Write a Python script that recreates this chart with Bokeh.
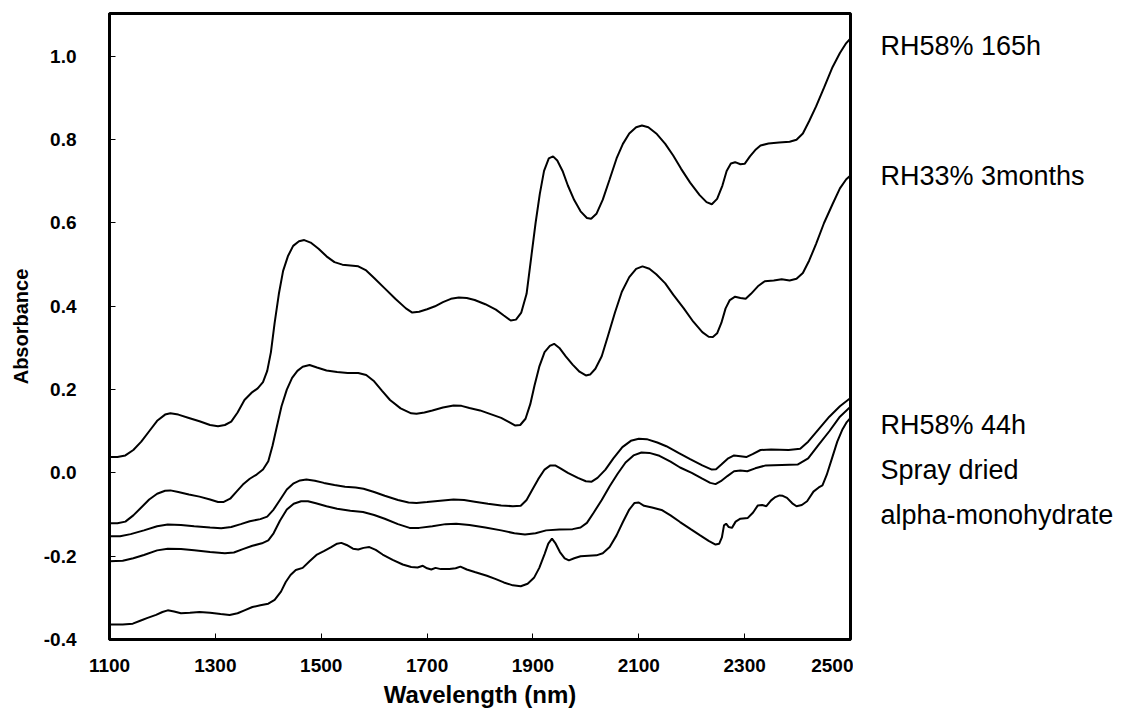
from bokeh.plotting import figure
from bokeh.layouts import row
from bokeh.models import Range1d, FixedTicker, NumeralTickFormatter
from bokeh.core.properties import value
from bokeh.embed import file_html
from bokeh.resources import INLINE

# ---- data ----
wl_rh58_165 = [1100, 1115, 1130, 1145, 1160, 1175, 1190, 1205, 1215, 1230, 1250, 1270, 1290, 1305, 1318, 1330,
               1342, 1355, 1368, 1380, 1390, 1398, 1405, 1412, 1420, 1428, 1437, 1447, 1458, 1468, 1480, 1495,
               1510, 1525, 1540, 1555, 1570, 1585, 1600, 1620, 1640, 1660, 1672, 1685, 1700, 1715, 1730, 1745,
               1760, 1775, 1790, 1810, 1830, 1845, 1858, 1868, 1878, 1888, 1897, 1905, 1913, 1921, 1930, 1938,
               1946, 1956, 1966, 1978, 1990, 2002, 2010, 2020, 2032, 2045, 2058, 2070, 2082, 2095, 2106, 2118,
               2133, 2150, 2165, 2180, 2197, 2215, 2228, 2238, 2248, 2258, 2266, 2274, 2282, 2292, 2300, 2310,
               2320, 2330, 2345, 2365, 2385, 2398, 2410, 2422, 2435, 2450, 2466, 2480, 2492, 2500]
ab_rh58_165 = [0.038, 0.038, 0.042, 0.055, 0.075, 0.100, 0.125, 0.140, 0.143, 0.140, 0.132, 0.124, 0.115, 0.112, 0.115, 0.123,
               0.145, 0.175, 0.192, 0.203, 0.218, 0.245, 0.290, 0.360, 0.430, 0.485, 0.520, 0.545, 0.556, 0.559, 0.553, 0.538,
               0.520, 0.506, 0.500, 0.498, 0.496, 0.486, 0.468, 0.443, 0.418, 0.395, 0.385, 0.387, 0.393, 0.400, 0.410, 0.418,
               0.421, 0.420, 0.415, 0.405, 0.392, 0.378, 0.366, 0.368, 0.385, 0.430, 0.520, 0.600, 0.670, 0.725, 0.755, 0.760,
               0.750, 0.725, 0.690, 0.655, 0.628, 0.612, 0.610, 0.622, 0.656, 0.705, 0.755, 0.790, 0.815, 0.830, 0.834, 0.830,
               0.815, 0.790, 0.762, 0.730, 0.697, 0.667, 0.650, 0.645, 0.658, 0.690, 0.725, 0.743, 0.746, 0.741, 0.742, 0.760,
               0.775, 0.786, 0.791, 0.793, 0.795, 0.800, 0.815, 0.845, 0.880, 0.925, 0.974, 1.008, 1.032, 1.043]

wl_rh33_3m = [1100, 1115, 1130, 1145, 1160, 1175, 1190, 1205, 1215, 1230, 1250, 1270, 1290, 1305, 1315, 1328,
              1340, 1352, 1365, 1378, 1390, 1400, 1408, 1416, 1425, 1435, 1445, 1455, 1465, 1478, 1492, 1510,
              1530, 1550, 1570, 1585, 1600, 1615, 1630, 1650, 1670, 1680, 1695, 1710, 1730, 1750, 1765, 1780,
              1800, 1820, 1840, 1855, 1866, 1876, 1886, 1895, 1903, 1912, 1922, 1932, 1940, 1950, 1962, 1975,
              1988, 2000, 2008, 2018, 2030, 2042, 2055, 2068, 2082, 2095, 2107, 2120, 2133, 2150, 2165, 2185,
              2203, 2220, 2232, 2240, 2248, 2256, 2264, 2272, 2282, 2292, 2302, 2312, 2325, 2338, 2355, 2370,
              2385, 2398, 2410, 2422, 2435, 2450, 2466, 2480, 2492, 2500]
ab_rh33_3m = [-0.121, -0.121, -0.117, -0.102, -0.083, -0.064, -0.050, -0.043, -0.042, -0.046, -0.052, -0.057, -0.064, -0.070, -0.070, -0.062,
              -0.045, -0.028, -0.014, -0.004, 0.008, 0.028, 0.065, 0.110, 0.160, 0.200, 0.228, 0.245, 0.255, 0.259, 0.253, 0.246,
              0.242, 0.240, 0.240, 0.235, 0.220, 0.197, 0.175, 0.155, 0.143, 0.142, 0.145, 0.150, 0.157, 0.162, 0.161, 0.156,
              0.150, 0.141, 0.132, 0.122, 0.114, 0.115, 0.130, 0.165, 0.210, 0.255, 0.290, 0.305, 0.310, 0.300, 0.280, 0.260,
              0.243, 0.234, 0.236, 0.250, 0.280, 0.330, 0.385, 0.435, 0.470, 0.490, 0.496, 0.490, 0.477, 0.455, 0.428, 0.395,
              0.363, 0.338, 0.327, 0.326, 0.335, 0.360, 0.395, 0.415, 0.423, 0.420, 0.418, 0.430, 0.448, 0.460, 0.462, 0.465,
              0.462, 0.466, 0.480, 0.510, 0.550, 0.600, 0.645, 0.683, 0.705, 0.714]

wl_rh58_44 = [1100, 1120, 1140, 1165, 1190, 1210, 1235, 1260, 1290, 1311, 1330, 1348, 1365, 1385, 1398, 1410,
              1422, 1435, 1448, 1460, 1472, 1488, 1505, 1525, 1545, 1565, 1580, 1600, 1620, 1645, 1665, 1680,
              1700, 1725, 1750, 1770, 1790, 1815, 1840, 1862, 1877, 1888, 1898, 1910, 1922, 1933, 1942, 1952,
              1966, 1985, 2000, 2011, 2022, 2037, 2052, 2069, 2085, 2100, 2115, 2135, 2152, 2175, 2197, 2220,
              2238, 2246, 2256, 2268, 2280, 2292, 2303, 2315, 2330, 2350, 2383, 2405, 2420, 2440, 2460, 2480, 2500]
ab_rh58_44 = [-0.152, -0.152, -0.147, -0.138, -0.128, -0.124, -0.125, -0.128, -0.131, -0.133, -0.130, -0.123, -0.116, -0.111, -0.105, -0.088,
              -0.065, -0.040, -0.025, -0.018, -0.016, -0.019, -0.024, -0.029, -0.033, -0.035, -0.038, -0.046, -0.055, -0.065, -0.071, -0.072,
              -0.070, -0.067, -0.064, -0.065, -0.069, -0.074, -0.078, -0.080, -0.079, -0.065, -0.042, -0.015, 0.008, 0.018, 0.018, 0.011,
              0.000, -0.012, -0.020, -0.021, -0.012, 0.008, 0.035, 0.062, 0.077, 0.082, 0.081, 0.073, 0.064, 0.048, 0.033, 0.018,
              0.008, 0.009, 0.020, 0.034, 0.042, 0.040, 0.038, 0.045, 0.055, 0.056, 0.055, 0.058, 0.075, 0.105, 0.135, 0.160, 0.180]

wl_spray = [1100, 1125, 1145, 1165, 1190, 1210, 1235, 1260, 1290, 1318, 1335, 1352, 1370, 1388, 1400, 1410,
            1422, 1435, 1448, 1462, 1475, 1490, 1510, 1530, 1555, 1579, 1600, 1620, 1645, 1667, 1685, 1710,
            1735, 1755, 1780, 1810, 1840, 1865, 1885, 1905, 1925, 1950, 1975, 1990, 2002, 2015, 2030, 2045,
            2060, 2075, 2090, 2105, 2120, 2139, 2160, 2178, 2200, 2220, 2235, 2245, 2255, 2268, 2280, 2292,
            2305, 2320, 2340, 2370, 2400, 2420, 2440, 2460, 2480, 2500]
ab_spray = [-0.212, -0.211, -0.205, -0.197, -0.186, -0.182, -0.183, -0.186, -0.190, -0.193, -0.191, -0.183, -0.175, -0.169, -0.162, -0.145,
            -0.115, -0.088, -0.074, -0.068, -0.068, -0.073, -0.080, -0.086, -0.091, -0.094, -0.101, -0.110, -0.123, -0.132, -0.132, -0.128,
            -0.123, -0.122, -0.125, -0.131, -0.138, -0.145, -0.148, -0.145, -0.138, -0.136, -0.135, -0.131, -0.120, -0.095, -0.065, -0.032,
            -0.002, 0.025, 0.042, 0.049, 0.048, 0.041, 0.027, 0.013, 0.000, -0.014, -0.024, -0.027, -0.020, -0.007, 0.004, 0.006,
            0.004, 0.011, 0.018, 0.019, 0.020, 0.035, 0.068, 0.100, 0.135, 0.159]

wl_alpha = [1100, 1125, 1144, 1158, 1172, 1188, 1200, 1210, 1222, 1235, 1252, 1270, 1290, 1310, 1327, 1342,
            1355, 1370, 1385, 1400, 1412, 1424, 1433, 1442, 1452, 1465, 1478, 1492, 1505, 1518, 1530, 1538,
            1548, 1560, 1570, 1580, 1591, 1603, 1616, 1635, 1654, 1670, 1682, 1692, 1700, 1708, 1716, 1726,
            1742, 1754, 1763, 1775, 1790, 1813, 1830, 1845, 1862, 1877, 1890, 1902, 1912, 1922, 1929, 1936,
            1943, 1951, 1960, 1968, 1978, 1990, 2005, 2020, 2032, 2045, 2058, 2070, 2082, 2092, 2100, 2110,
            2125, 2143, 2160, 2178, 2198, 2216, 2232, 2245, 2252, 2257, 2261, 2265, 2270, 2276, 2283, 2292,
            2306, 2316, 2325, 2333, 2341, 2350, 2358, 2366, 2372, 2380, 2390, 2398, 2408, 2418, 2430, 2440,
            2447, 2455, 2465, 2475, 2485, 2493, 2500]
ab_alpha = [-0.364, -0.364, -0.362, -0.355, -0.348, -0.341, -0.334, -0.330, -0.333, -0.337, -0.336, -0.334, -0.336, -0.339, -0.341, -0.337,
            -0.330, -0.322, -0.318, -0.314, -0.305, -0.285, -0.262, -0.245, -0.233, -0.228, -0.212, -0.196, -0.188, -0.179, -0.170, -0.168,
            -0.173, -0.182, -0.184, -0.180, -0.178, -0.185, -0.196, -0.209, -0.220, -0.226, -0.227, -0.223, -0.229, -0.232, -0.228, -0.231,
            -0.231, -0.229, -0.225, -0.232, -0.238, -0.247, -0.255, -0.263, -0.270, -0.272, -0.266, -0.252, -0.228, -0.195, -0.170, -0.158,
            -0.170, -0.190, -0.205, -0.210, -0.205, -0.200, -0.199, -0.198, -0.193, -0.178, -0.150, -0.118, -0.088, -0.072, -0.071, -0.079,
            -0.083, -0.089, -0.102, -0.118, -0.135, -0.150, -0.163, -0.172, -0.170, -0.155, -0.126, -0.122, -0.130, -0.132, -0.117, -0.110,
            -0.108, -0.095, -0.078, -0.077, -0.080, -0.066, -0.058, -0.054, -0.055, -0.060, -0.073, -0.080, -0.077, -0.068, -0.045, -0.035,
            -0.030, -0.005, 0.035, 0.075, 0.105, 0.122, 0.132]

series_names = ["RH58% 165h", "RH33% 3months", "RH58% 44h", "Spray dried", "alpha-monohydrate"]
label_y = [1.024, 0.714, 0.116, 0.008, -0.102]

x_ticks = [1100, 1300, 1500, 1700, 1900, 2100, 2300, 2500]
y_ticks = [-0.4, -0.2, 0.0, 0.2, 0.4, 0.6, 0.8, 1.0]

FONT = "Liberation Sans"
Y_MIN, Y_MAX = -0.4, 1.103
TOP, BOTTOM, H = 13, 76, 715

# ---- main chart ----
p = figure(width=853, height=H, output_backend="svg", toolbar_location=None,
           x_range=Range1d(1100, 2500), y_range=Range1d(Y_MIN, Y_MAX),
           min_border_left=109, min_border_right=3, min_border_top=TOP, min_border_bottom=BOTTOM)
p.background_fill_color = "white"
p.border_fill_color = "white"
p.outline_line_color = "black"
p.outline_line_width = 3
p.xgrid.visible = False
p.ygrid.visible = False

for wl, ab in [(wl_rh58_165, ab_rh58_165), (wl_rh33_3m, ab_rh33_3m), (wl_rh58_44, ab_rh58_44),
               (wl_spray, ab_spray), (wl_alpha, ab_alpha)]:
    p.line(wl, ab, line_color="black", line_width=2)

for ax in (p.xaxis[0], p.yaxis[0]):
    ax.axis_line_width = 3
    ax.axis_line_color = "black"
    ax.major_tick_in = 6
    ax.major_tick_out = 0
    ax.minor_tick_line_color = None
    ax.major_tick_line_color = "black"
    ax.major_tick_line_width = 1
    ax.major_label_text_font = FONT
    ax.major_label_text_font_style = "bold"
    ax.major_label_text_color = "black"
    ax.axis_label_text_font = FONT
    ax.axis_label_text_font_style = "bold"
    ax.axis_label_text_color = "black"

p.xaxis.ticker = FixedTicker(ticks=x_ticks)
p.yaxis.ticker = FixedTicker(ticks=y_ticks)
p.yaxis.formatter = NumeralTickFormatter(format="0.0")
p.xaxis.axis_label = "Wavelength (nm)"
p.yaxis.axis_label = "Absorbance"
p.xaxis.major_label_text_font_size = "19px"
p.yaxis.major_label_text_font_size = "19px"
p.xaxis.axis_label_text_font_size = "24px"
p.yaxis.axis_label_text_font_size = "20px"
p.xaxis.major_label_standoff = 19
p.xaxis.axis_label_standoff = 6
p.yaxis.major_label_standoff = 33
p.yaxis.axis_label_standoff = 9

# ---- side panel with the series names ----
side = figure(width=262, height=H, output_backend="svg", toolbar_location=None,
              x_range=Range1d(0, 262), y_range=Range1d(Y_MIN, Y_MAX),
              x_axis_location=None, y_axis_location=None,
              min_border_left=0, min_border_right=0, min_border_top=TOP, min_border_bottom=BOTTOM)
side.outline_line_color = None
side.xgrid.visible = False
side.ygrid.visible = False
side.background_fill_color = "white"
side.border_fill_color = "white"
side.text(x=[27] * len(series_names), y=label_y, text=series_names,
          text_font=value(FONT), text_font_size=value("27px"), text_color="black",
          text_align="left", text_baseline="middle")

layout = row(p, side)
open("out.html", "w").write(file_html(layout, INLINE))
